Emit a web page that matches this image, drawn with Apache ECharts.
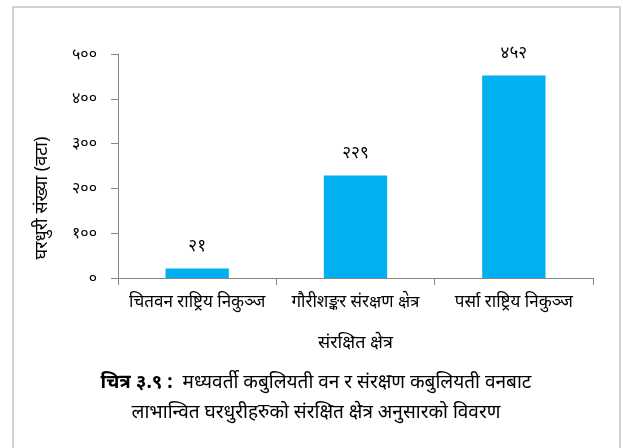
<!DOCTYPE html>
<html>
<head>
<meta charset="utf-8">
<script src="https://cdn.jsdelivr.net/npm/echarts@6/dist/echarts.min.js"></script>
<style>
  html, body { margin: 0; padding: 0; background: #fff; }
  #chart { width: 623px; height: 448px; }
</style>
</head>
<body>
<div id="chart"></div>
<script>
// Protected areas and number of households benefiting
const categories = ['चितवन राष्ट्रिय निकुञ्ज', 'गौरीशङ्कर संरक्षण क्षेत्र', 'पर्सा राष्ट्रिय निकुञ्ज'];
const households = [21, 229, 452];
const yTicks = [0, 100, 200, 300, 400, 500];

const xAxisName = 'संरक्षित क्षेत्र';
const yAxisName = 'घरधुरी संख्या (वटा)';
const captionLabel = 'चित्र ३.९ :';
const captionLine1 = 'मध्यवर्ती कबुलियती वन र संरक्षण कबुलियती वनबाट';
const captionLine2 = 'लाभान्वित घरधुरीहरुको संरक्षित क्षेत्र अनुसारको विवरण';

const DIGITS = '०१२३४५६७८९';
function toDeva(n) {
  return String(n).replace(/[0-9]/g, d => DIGITS[+d]);
}

const FONT = "'Noto Sans', sans-serif";
const chart = echarts.init(document.getElementById('chart'), null, { renderer: 'canvas' });

chart.setOption({
  backgroundColor: '#fff',
  animation: false,
  textStyle: { fontFamily: FONT, color: '#000' },
  grid: { left: 118, right: 30, top: 54, bottom: 170 },
  graphic: [
    {
      type: 'rect',
      shape: { x: 13, y: 7, width: 607, height: 460 },
      style: { fill: 'none', stroke: '#c4c4c4', lineWidth: 1.5 },
      silent: true
    },
    {
      type: 'text',
      x: 42, y: 198,
      rotation: Math.PI / 2,
      style: {
        text: yAxisName,
        font: "18px " + FONT,
        fill: '#000',
        align: 'center',
        verticalAlign: 'middle'
      },
      silent: true
    },
    {
      type: 'text',
      x: 316, y: 383,
      style: {
        text: '{b|' + captionLabel + '}  ' + captionLine1,
        font: "19px " + FONT,
        fill: '#000',
        align: 'center',
        verticalAlign: 'middle',
        rich: {
          b: { fontWeight: 'bold', fontSize: 19, fontFamily: FONT }
        }
      },
      silent: true
    },
    {
      type: 'text',
      x: 316, y: 413,
      style: {
        text: captionLine2,
        font: "19px " + FONT,
        fill: '#000',
        align: 'center',
        verticalAlign: 'middle'
      },
      silent: true
    }
  ],
  xAxis: {
    type: 'category',
    data: categories,
    name: xAxisName,
    nameLocation: 'middle',
    nameGap: 56,
    nameTextStyle: { fontSize: 18, color: '#000', fontFamily: FONT },
    axisLine: { lineStyle: { color: '#868686', width: 1 } },
    axisTick: { show: true, length: 7, lineStyle: { color: '#868686' } },
    axisLabel: { fontSize: 17, color: '#000', margin: 16, fontFamily: FONT, interval: 0, hideOverlap: false }
  },
  yAxis: {
    type: 'value',
    min: yTicks[0],
    max: yTicks[yTicks.length - 1],
    interval: yTicks[1] - yTicks[0],
    axisLine: { show: true, lineStyle: { color: '#868686', width: 1 } },
    axisTick: { show: true, length: 7, lineStyle: { color: '#868686' } },
    splitLine: { show: false },
    axisLabel: { fontSize: 16, color: '#000', margin: 21, fontFamily: FONT, formatter: v => toDeva(v) }
  },
  series: [{
    type: 'bar',
    data: households,
    barWidth: '40%',
    itemStyle: { color: '#00B0F0' },
    label: {
      show: true,
      position: 'top',
      distance: 14,
      fontSize: 17,
      color: '#000',
      fontFamily: FONT,
      formatter: p => toDeva(p.value)
    }
  }]
});
</script>
</body>
</html>
